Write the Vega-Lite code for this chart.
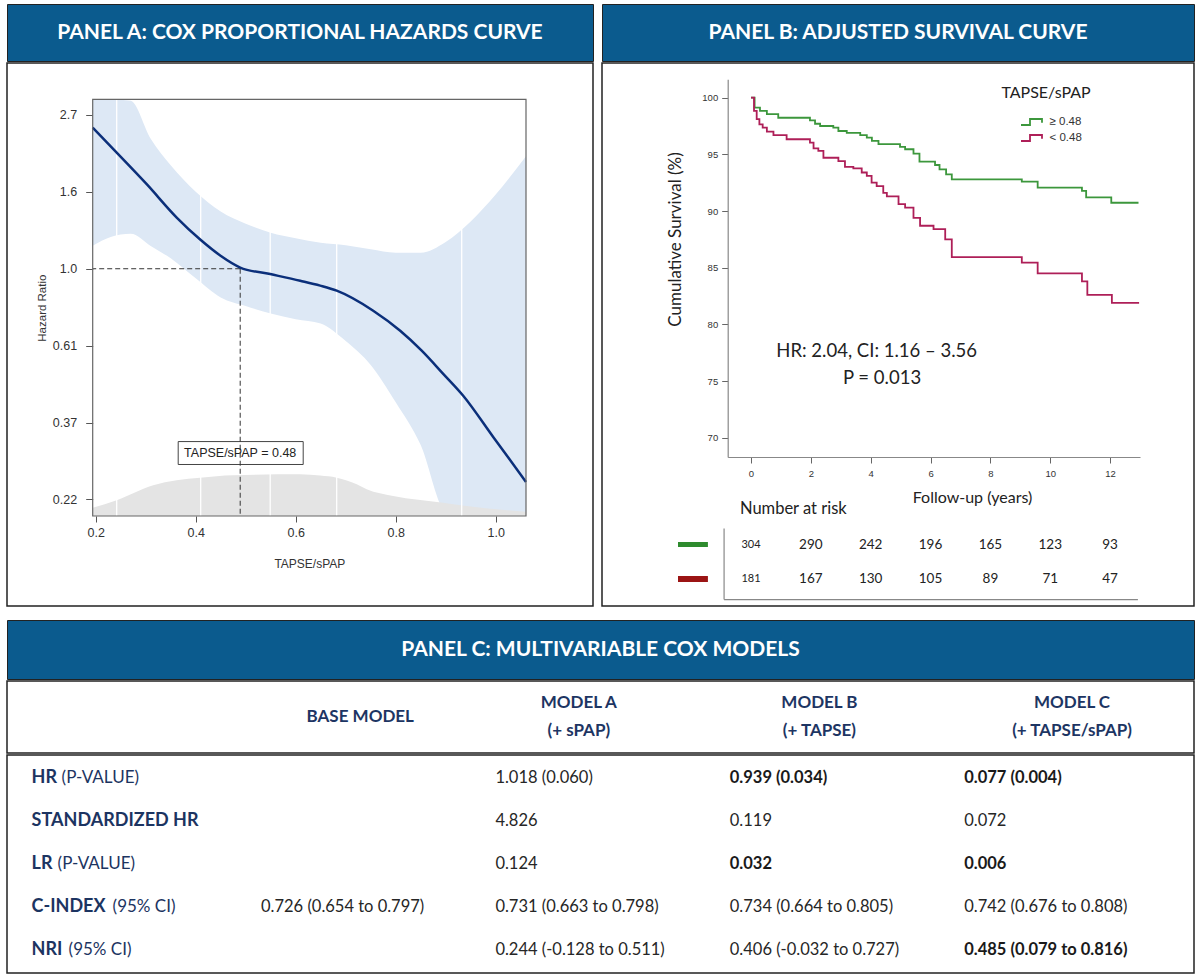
{
  "$schema": "https://vega.github.io/schema/vega-lite/v6.json",
  "background": "white",
  "padding": {"left": 6, "top": 3, "right": 4, "bottom": 2},
  "spacing": 12,
  "config": {
    "view": {"stroke": "#222", "strokeWidth": 1.5},
    "axis": {"grid": false}
  },
  "datasets": {
    "hr_ci": [
      {"tapse_spap": 0.194, "lower": 1.161, "upper": 4.4},
      {"tapse_spap": 0.23, "lower": 1.23, "upper": 3.6},
      {"tapse_spap": 0.27, "lower": 1.255, "upper": 2.98},
      {"tapse_spap": 0.31, "lower": 1.16, "upper": 2.33},
      {"tapse_spap": 0.35, "lower": 1.07, "upper": 1.96},
      {"tapse_spap": 0.4, "lower": 0.94, "upper": 1.65},
      {"tapse_spap": 0.45, "lower": 0.83, "upper": 1.45},
      {"tapse_spap": 0.5, "lower": 0.785, "upper": 1.34},
      {"tapse_spap": 0.55, "lower": 0.747, "upper": 1.264},
      {"tapse_spap": 0.6, "lower": 0.72, "upper": 1.22},
      {"tapse_spap": 0.65, "lower": 0.7, "upper": 1.184},
      {"tapse_spap": 0.7, "lower": 0.625, "upper": 1.165},
      {"tapse_spap": 0.75, "lower": 0.535, "upper": 1.135},
      {"tapse_spap": 0.8, "lower": 0.42, "upper": 1.11},
      {"tapse_spap": 0.85, "lower": 0.318, "upper": 1.11},
      {"tapse_spap": 0.9, "lower": 0.206, "upper": 1.19},
      {"tapse_spap": 0.95, "lower": 0.12, "upper": 1.36},
      {"tapse_spap": 1.0, "lower": 0.08, "upper": 1.62},
      {"tapse_spap": 1.0606, "lower": 0.05, "upper": 2.08}
    ],
    "hr_fit": [
      {"tapse_spap": 0.194, "hr": 2.503},
      {"tapse_spap": 0.242, "hr": 2.128},
      {"tapse_spap": 0.302, "hr": 1.733},
      {"tapse_spap": 0.362, "hr": 1.395},
      {"tapse_spap": 0.409, "hr": 1.209},
      {"tapse_spap": 0.449, "hr": 1.09},
      {"tapse_spap": 0.489, "hr": 1.008},
      {"tapse_spap": 0.549, "hr": 0.966},
      {"tapse_spap": 0.609, "hr": 0.925},
      {"tapse_spap": 0.649, "hr": 0.896},
      {"tapse_spap": 0.682, "hr": 0.867},
      {"tapse_spap": 0.755, "hr": 0.761},
      {"tapse_spap": 0.809, "hr": 0.668},
      {"tapse_spap": 0.852, "hr": 0.587},
      {"tapse_spap": 0.895, "hr": 0.505},
      {"tapse_spap": 0.935, "hr": 0.438},
      {"tapse_spap": 0.995, "hr": 0.335},
      {"tapse_spap": 1.0606, "hr": 0.25}
    ],
    "density": [
      {"tapse_spap": 0.194, "density": 0.2},
      {"tapse_spap": 0.242, "density": 0.38},
      {"tapse_spap": 0.315, "density": 0.74},
      {"tapse_spap": 0.362, "density": 0.86},
      {"tapse_spap": 0.409, "density": 0.92},
      {"tapse_spap": 0.475, "density": 0.98},
      {"tapse_spap": 0.609, "density": 1.0},
      {"tapse_spap": 0.649, "density": 0.97},
      {"tapse_spap": 0.682, "density": 0.92},
      {"tapse_spap": 0.722, "density": 0.76},
      {"tapse_spap": 0.742, "density": 0.64},
      {"tapse_spap": 0.795, "density": 0.48},
      {"tapse_spap": 0.895, "density": 0.32},
      {"tapse_spap": 0.942, "density": 0.24},
      {"tapse_spap": 1.0606, "density": 0.1}
    ],
    "knots": [
      {"knot": 0.242}, {"knot": 0.41}, {"knot": 0.549}, {"knot": 0.682}, {"knot": 0.932}
    ],
    "cutoff": [
      {"tapse_spap": 0.489, "hr": 1.0, "label": "TAPSE/sPAP = 0.48"}
    ],
    "km": [
      {"group": "≥ 0.48", "years": 0, "survival": 100},
      {"group": "≥ 0.48", "years": 0.12, "survival": 99.12},
      {"group": "≥ 0.48", "years": 0.3, "survival": 98.83},
      {"group": "≥ 0.48", "years": 0.53, "survival": 98.54},
      {"group": "≥ 0.48", "years": 0.91, "survival": 98.23},
      {"group": "≥ 0.48", "years": 1.97, "survival": 98.0},
      {"group": "≥ 0.48", "years": 2.14, "survival": 97.7},
      {"group": "≥ 0.48", "years": 2.31, "survival": 97.5},
      {"group": "≥ 0.48", "years": 2.75, "survival": 97.35},
      {"group": "≥ 0.48", "years": 2.92, "survival": 97.06},
      {"group": "≥ 0.48", "years": 3.2, "survival": 96.9},
      {"group": "≥ 0.48", "years": 3.65, "survival": 96.7},
      {"group": "≥ 0.48", "years": 3.87, "survival": 96.47},
      {"group": "≥ 0.48", "years": 4.04, "survival": 96.18},
      {"group": "≥ 0.48", "years": 4.26, "survival": 95.9},
      {"group": "≥ 0.48", "years": 4.98, "survival": 95.65},
      {"group": "≥ 0.48", "years": 5.15, "survival": 95.45},
      {"group": "≥ 0.48", "years": 5.43, "survival": 95.06},
      {"group": "≥ 0.48", "years": 5.63, "survival": 94.35},
      {"group": "≥ 0.48", "years": 6.15, "survival": 94.06},
      {"group": "≥ 0.48", "years": 6.3, "survival": 93.68},
      {"group": "≥ 0.48", "years": 6.52, "survival": 93.24},
      {"group": "≥ 0.48", "years": 6.71, "survival": 92.8},
      {"group": "≥ 0.48", "years": 9.05, "survival": 92.59},
      {"group": "≥ 0.48", "years": 9.58, "survival": 92.06},
      {"group": "≥ 0.48", "years": 11.06, "survival": 91.77},
      {"group": "≥ 0.48", "years": 11.2, "survival": 91.2},
      {"group": "≥ 0.48", "years": 12.04, "survival": 90.73},
      {"group": "≥ 0.48", "years": 12.95, "survival": 90.73},
      {"group": "< 0.48", "years": 0, "survival": 100},
      {"group": "< 0.48", "years": 0.1, "survival": 98.83},
      {"group": "< 0.48", "years": 0.19, "survival": 98.1},
      {"group": "< 0.48", "years": 0.28, "survival": 97.65},
      {"group": "< 0.48", "years": 0.39, "survival": 97.35},
      {"group": "< 0.48", "years": 0.53, "survival": 97.0},
      {"group": "< 0.48", "years": 0.75, "survival": 96.7},
      {"group": "< 0.48", "years": 1.19, "survival": 96.33},
      {"group": "< 0.48", "years": 1.97, "survival": 96.03},
      {"group": "< 0.48", "years": 2.09, "survival": 95.53},
      {"group": "< 0.48", "years": 2.25, "survival": 95.3},
      {"group": "< 0.48", "years": 2.42, "survival": 94.7},
      {"group": "< 0.48", "years": 2.92, "survival": 94.41},
      {"group": "< 0.48", "years": 3.14, "survival": 93.9},
      {"group": "< 0.48", "years": 3.42, "survival": 93.77},
      {"group": "< 0.48", "years": 3.7, "survival": 93.4},
      {"group": "< 0.48", "years": 3.87, "survival": 93.1},
      {"group": "< 0.48", "years": 4.03, "survival": 92.5},
      {"group": "< 0.48", "years": 4.2, "survival": 92.2},
      {"group": "< 0.48", "years": 4.42, "survival": 91.6},
      {"group": "< 0.48", "years": 4.54, "survival": 91.3},
      {"group": "< 0.48", "years": 4.93, "survival": 90.6},
      {"group": "< 0.48", "years": 5.15, "survival": 90.3},
      {"group": "< 0.48", "years": 5.43, "survival": 89.4},
      {"group": "< 0.48", "years": 5.65, "survival": 88.7},
      {"group": "< 0.48", "years": 6.1, "survival": 88.4},
      {"group": "< 0.48", "years": 6.49, "survival": 87.5},
      {"group": "< 0.48", "years": 6.71, "survival": 85.94},
      {"group": "< 0.48", "years": 9.05, "survival": 85.44},
      {"group": "< 0.48", "years": 9.58, "survival": 84.5},
      {"group": "< 0.48", "years": 11.06, "survival": 83.8},
      {"group": "< 0.48", "years": 11.24, "survival": 82.6},
      {"group": "< 0.48", "years": 12.06, "survival": 81.9},
      {"group": "< 0.48", "years": 12.97, "survival": 81.9}
    ],
    "risk": [
      {"group": "≥ 0.48", "years": 0, "n": 304},
      {"group": "≥ 0.48", "years": 2, "n": 290},
      {"group": "≥ 0.48", "years": 4, "n": 242},
      {"group": "≥ 0.48", "years": 6, "n": 196},
      {"group": "≥ 0.48", "years": 8, "n": 165},
      {"group": "≥ 0.48", "years": 10, "n": 123},
      {"group": "≥ 0.48", "years": 12, "n": 93},
      {"group": "< 0.48", "years": 0, "n": 181},
      {"group": "< 0.48", "years": 2, "n": 167},
      {"group": "< 0.48", "years": 4, "n": 130},
      {"group": "< 0.48", "years": 6, "n": 105},
      {"group": "< 0.48", "years": 8, "n": 89},
      {"group": "< 0.48", "years": 10, "n": 71},
      {"group": "< 0.48", "years": 12, "n": 47}
    ],
    "groups": [{"group": "≥ 0.48"}, {"group": "< 0.48"}],
    "notes": [{"hr_text": "HR: 2.04, CI: 1.16 – 3.56", "p_text": "P = 0.013", "risk_title": "Number at risk", "legend_title": "TAPSE/sPAP"}],
    "models": [
      {"model": "Base model", "heading": "BASE MODEL"},
      {"model": "Model A", "heading": "MODEL A\n(+ sPAP)"},
      {"model": "Model B", "heading": "MODEL B\n(+ TAPSE)"},
      {"model": "Model C", "heading": "MODEL C\n(+ TAPSE/sPAP)"}
    ],
    "rowlabels": [
      {"row": "HR", "model": "label", "name": "HR", "detail": "(P-VALUE)"},
      {"row": "Standardized HR", "model": "label", "name": "STANDARDIZED HR", "detail": ""},
      {"row": "LR", "model": "label", "name": "LR", "detail": "(P-VALUE)"},
      {"row": "C-index", "model": "label", "name": "C-INDEX", "detail": "(95% CI)"},
      {"row": "NRI", "model": "label", "name": "NRI", "detail": "(95% CI)"}
    ],
    "cells": [
      {"row": "HR", "model": "Model A", "value": "1.018 (0.060)"},
      {"row": "HR", "model": "Model B", "value": "0.939 (0.034)"},
      {"row": "HR", "model": "Model C", "value": "0.077 (0.004)"},
      {"row": "Standardized HR", "model": "Model A", "value": "4.826"},
      {"row": "Standardized HR", "model": "Model B", "value": "0.119"},
      {"row": "Standardized HR", "model": "Model C", "value": "0.072"},
      {"row": "LR", "model": "Model A", "value": "0.124"},
      {"row": "LR", "model": "Model B", "value": "0.032"},
      {"row": "LR", "model": "Model C", "value": "0.006"},
      {"row": "C-index", "model": "Base model", "value": "0.726 (0.654 to 0.797)"},
      {"row": "C-index", "model": "Model A", "value": "0.731 (0.663 to 0.798)"},
      {"row": "C-index", "model": "Model B", "value": "0.734 (0.664 to 0.805)"},
      {"row": "C-index", "model": "Model C", "value": "0.742 (0.676 to 0.808)"},
      {"row": "NRI", "model": "Model A", "value": "0.244 (-0.128 to 0.511)"},
      {"row": "NRI", "model": "Model B", "value": "0.406 (-0.032 to 0.727)"},
      {"row": "NRI", "model": "Model C", "value": "0.485 (0.079 to 0.816)"}
    ]
  },
  "vconcat": [
    {
      "hconcat": [
        {
          "vconcat": [
            {
              "width": 586, "height": 57,
              "view": {"fill": "#0b5b8e", "stroke": "#222"},
              "data": {"values": [{"title": "PANEL A: COX PROPORTIONAL HAZARDS CURVE"}]},
              "mark": {"type": "text", "color": "white", "font": "Lato", "fontWeight": "bold", "fontSize": 21, "baseline": "middle"},
              "encoding": {"text": {"field": "title", "type": "nominal"}}
            },
            {
              "width": 586, "height": 543,
              "view": {"fill": "white", "stroke": "#222"},
              "resolve": {"scale": {"y": "independent"}},
              "layer": [
                {
                  "data": {"name": "hr_ci"},
                  "mark": {"type": "area", "color": "#dde8f5", "opacity": 1, "interpolate": "monotone"},
                  "encoding": {
                    "x": {"field": "tapse_spap", "type": "quantitative",
                      "scale": {"domain": [0.194, 1.0606], "range": [85.7, 519], "nice": false, "zero": false},
                      "axis": {"orient": "bottom", "offset": -90, "values": [0.2, 0.4, 0.6, 0.8, 1.0], "format": ".1f", "domain": false, "tickSize": 6, "tickColor": "#555", "labelFont": "Liberation Sans", "labelFontSize": 12.5, "labelColor": "#333", "labelPadding": 4, "title": "TAPSE/sPAP", "titleFont": "Liberation Sans", "titleFontSize": 12, "titleFontWeight": "normal", "titleColor": "#333", "titlePadding": 20}},
                    "y": {"field": "upper", "type": "quantitative",
                      "scale": {"type": "log", "domain": [0.2003, 3.01], "range": [453, 36.3], "nice": false, "clamp": true},
                      "axis": {"orient": "left", "offset": -85.7, "values": [0.2231, 0.3679, 0.6065, 1, 1.6487, 2.7183], "format": ".2g", "domain": false, "tickSize": 7, "tickColor": "#555", "labelFont": "Liberation Sans", "labelFontSize": 12.5, "labelColor": "#333", "labelPadding": 9, "title": "Hazard Ratio", "titleFont": "Liberation Sans", "titleFontSize": 11.5, "titleFontWeight": "normal", "titleColor": "#333", "titlePadding": 5}},
                    "y2": {"field": "lower"}
                  }
                },
                {
                  "data": {"name": "density"},
                  "mark": {"type": "area", "color": "#e4e4e4", "opacity": 1, "interpolate": "monotone"},
                  "encoding": {
                    "x": {"field": "tapse_spap", "type": "quantitative"},
                    "y": {"field": "density", "type": "quantitative", "scale": {"domain": [0, 10], "range": [453, 36.3], "nice": false}, "axis": null}
                  }
                },
                {
                  "layer": [
                    {
                      "data": {"name": "knots"},
                      "mark": {"type": "rule", "color": "white", "strokeWidth": 1.3},
                      "encoding": {
                        "x": {"field": "knot", "type": "quantitative"},
                        "y": {"datum": 0.2003, "type": "quantitative", "scale": {"type": "log", "domain": [0.2003, 3.01], "range": [453, 36.3], "nice": false, "clamp": true}, "axis": null},
                        "y2": {"datum": 3.01}
                      }
                    },
                    {
                      "data": {"name": "cutoff"},
                      "mark": {"type": "rect", "fill": "white", "stroke": "#444", "strokeWidth": 1},
                      "encoding": {
                        "x": {"datum": 0.365, "type": "quantitative"}, "x2": {"datum": 0.615},
                        "y": {"datum": 0.325, "type": "quantitative", "axis": null}, "y2": {"datum": 0.28}
                      }
                    },
                    {
                      "data": {"name": "cutoff"},
                      "mark": {"type": "rule", "strokeDash": [5, 3], "color": "#333", "strokeWidth": 1},
                      "encoding": {
                        "x": {"field": "tapse_spap", "type": "quantitative"}, "x2": {"datum": 0.194},
                        "y": {"field": "hr", "type": "quantitative", "axis": null}
                      }
                    },
                    {
                      "data": {"name": "cutoff"},
                      "mark": {"type": "rule", "strokeDash": [5, 3], "color": "#333", "strokeWidth": 1},
                      "encoding": {
                        "x": {"field": "tapse_spap", "type": "quantitative"},
                        "y": {"field": "hr", "type": "quantitative", "axis": null}, "y2": {"datum": 0.2003}
                      }
                    },
                    {
                      "data": {"name": "hr_fit"},
                      "mark": {"type": "line", "color": "#0b2f7a", "strokeWidth": 2.5, "interpolate": "monotone"},
                      "encoding": {
                        "x": {"field": "tapse_spap", "type": "quantitative"},
                        "y": {"field": "hr", "type": "quantitative", "axis": null}
                      }
                    },
                    {
                      "data": {"name": "cutoff"},
                      "mark": {"type": "text", "font": "Liberation Sans", "fontSize": 12.5, "color": "#222", "baseline": "middle"},
                      "encoding": {
                        "x": {"field": "tapse_spap", "type": "quantitative"},
                        "y": {"datum": 0.302, "type": "quantitative", "axis": null},
                        "text": {"field": "label", "type": "nominal"}
                      }
                    },
                    {
                      "data": {"name": "cutoff"},
                      "mark": {"type": "rect", "fill": "transparent", "stroke": "#666", "strokeWidth": 1.2},
                      "encoding": {
                        "x": {"datum": 0.194, "type": "quantitative"}, "x2": {"datum": 1.0606},
                        "y": {"datum": 0.2003, "type": "quantitative", "axis": null}, "y2": {"datum": 3.01}
                      }
                    }
                  ]
                }
              ]
            }
          ],
          "spacing": 0
        },
        {
          "vconcat": [
            {
              "width": 592, "height": 57,
              "view": {"fill": "#0b5b8e", "stroke": "#222"},
              "data": {"values": [{"title": "PANEL B: ADJUSTED SURVIVAL CURVE"}]},
              "mark": {"type": "text", "color": "white", "font": "Lato", "fontWeight": "bold", "fontSize": 21, "baseline": "middle"},
              "encoding": {"text": {"field": "title", "type": "nominal"}}
            },
            {
              "width": 592, "height": 543,
              "view": {"fill": "white", "stroke": "#222"},
              "layer": [
                {
                  "data": {"name": "km"},
                  "mark": {"type": "line", "interpolate": "step-after", "strokeWidth": 1.8},
                  "encoding": {
                    "x": {"field": "years", "type": "quantitative",
                      "scale": {"domain": [-0.779, 13.0], "range": [125.7, 538], "nice": false, "zero": false},
                      "axis": {"orient": "bottom", "offset": -149, "values": [0, 2, 4, 6, 8, 10, 12], "domainColor": "#888", "domainWidth": 1.2, "tickColor": "#666", "tickSize": 6, "labelFont": "Liberation Sans", "labelFontSize": 9.5, "labelColor": "#333", "labelPadding": 5, "title": "Follow-up (years)", "titleFont": "Lato", "titleFontSize": 16, "titleFontWeight": "normal", "titleColor": "#222", "titleX": 370, "titleY": 40, "titleBaseline": "middle", "titleAlign": "center"}},
                    "y": {"field": "survival", "type": "quantitative",
                      "scale": {"domain": [68.3, 101.62], "range": [394, 16.3], "nice": false, "zero": false},
                      "axis": {"orient": "left", "offset": -125.7, "values": [70, 75, 80, 85, 90, 95, 100], "domainColor": "#888", "domainWidth": 1.2, "tickColor": "#666", "tickSize": 6, "labelFont": "Liberation Sans", "labelFontSize": 9.5, "labelColor": "#333", "labelPadding": 4, "title": "Cumulative Survival (%)", "titleFont": "Lato", "titleFontSize": 17, "titleFontWeight": "normal", "titleColor": "#222", "titleX": -52, "titleY": 176, "titleAngle": -90, "titleBaseline": "middle", "titleAlign": "center"}},
                    "color": {"field": "group", "type": "nominal",
                      "scale": {"domain": ["≥ 0.48", "< 0.48"], "range": ["#3c973c", "#ae1f58"]},
                      "legend": {"orient": "none", "legendX": 1016, "legendY": 109.5, "title": null, "symbolType": "M-1.4,0.4H-0.2V-0.4H1.4V0.1", "symbolSize": 225, "symbolStrokeWidth": 1.8, "symbolFillColor": "transparent", "labelFont": "Liberation Sans", "labelFontSize": 11.5, "labelColor": "#333", "labelOffset": 9.5, "rowPadding": -1, "padding": 0}}
                  }
                },
                {
                  "data": {"name": "notes"},
                  "mark": {"type": "text", "font": "Lato", "fontSize": 16, "color": "#222", "baseline": "middle"},
                  "encoding": {"x": {"datum": 9.86, "type": "quantitative"}, "y": {"datum": 100.41, "type": "quantitative"}, "text": {"field": "legend_title", "type": "nominal"}}
                },
                {
                  "data": {"name": "notes"},
                  "mark": {"type": "text", "font": "Lato", "fontSize": 18.5, "color": "#222", "baseline": "middle"},
                  "encoding": {"x": {"datum": 4.2, "type": "quantitative"}, "y": {"datum": 77.65, "type": "quantitative"}, "text": {"field": "hr_text", "type": "nominal"}}
                },
                {
                  "data": {"name": "notes"},
                  "mark": {"type": "text", "font": "Lato", "fontSize": 18.5, "color": "#222", "baseline": "middle"},
                  "encoding": {"x": {"datum": 4.38, "type": "quantitative"}, "y": {"datum": 75.27, "type": "quantitative"}, "text": {"field": "p_text", "type": "nominal"}}
                },
                {
                  "data": {"name": "notes"},
                  "mark": {"type": "text", "font": "Lato", "fontSize": 16.5, "color": "#222", "baseline": "middle", "align": "left"},
                  "encoding": {"x": {"datum": -0.37, "type": "quantitative"}, "y": {"datum": 63.71, "type": "quantitative"}, "text": {"field": "risk_title", "type": "nominal"}}
                },
                {
                  "data": {"name": "risk"},
                  "transform": [{"filter": "datum.group === '≥ 0.48'"}],
                  "mark": {"type": "text", "font": "Lato", "color": "#222", "baseline": "middle"},
                  "encoding": {"x": {"field": "years", "type": "quantitative"}, "y": {"datum": 60.53, "type": "quantitative"}, "text": {"field": "n", "type": "quantitative"},
                    "size": {"condition": {"test": "datum.years === 0", "value": 11}, "value": 13.5}}
                },
                {
                  "data": {"name": "risk"},
                  "transform": [{"filter": "datum.group === '< 0.48'"}],
                  "mark": {"type": "text", "font": "Lato", "color": "#222", "baseline": "middle"},
                  "encoding": {"x": {"field": "years", "type": "quantitative"}, "y": {"datum": 57.53, "type": "quantitative"}, "text": {"field": "n", "type": "quantitative"},
                    "size": {"condition": {"test": "datum.years === 0", "value": 11}, "value": 13.5}}
                },
                {
                  "data": {"name": "groups"},
                  "transform": [{"filter": "datum.group === '≥ 0.48'"}],
                  "mark": {"type": "rect", "color": "#2e8b2e"},
                  "encoding": {"x": {"datum": -2.44, "type": "quantitative"}, "x2": {"datum": -1.44}, "y": {"datum": 60.8, "type": "quantitative"}, "y2": {"datum": 60.36}}
                },
                {
                  "data": {"name": "groups"},
                  "transform": [{"filter": "datum.group === '< 0.48'"}],
                  "mark": {"type": "rect", "color": "#9b1414"},
                  "encoding": {"x": {"datum": -2.44, "type": "quantitative"}, "x2": {"datum": -1.44}, "y": {"datum": 57.8, "type": "quantitative"}, "y2": {"datum": 57.27}}
                },
                {
                  "data": {"name": "notes"},
                  "mark": {"type": "rule", "color": "#888", "strokeWidth": 1.2},
                  "encoding": {"x": {"datum": -0.9, "type": "quantitative"}, "y": {"datum": 61.99, "type": "quantitative"}, "y2": {"datum": 55.72}}
                },
                {
                  "data": {"name": "notes"},
                  "mark": {"type": "rule", "color": "#888", "strokeWidth": 1.2},
                  "encoding": {"x": {"datum": -0.9, "type": "quantitative"}, "x2": {"datum": 12.93}, "y": {"datum": 55.72, "type": "quantitative"}}
                }
              ]
            }
          ],
          "spacing": 0
        }
      ],
      "spacing": 7
    },
    {
      "vconcat": [
        {
          "width": 1187, "height": 59,
          "view": {"fill": "#0b5b8e", "stroke": "#222"},
          "data": {"values": [{"title": "PANEL C: MULTIVARIABLE COX MODELS"}]},
          "mark": {"type": "text", "color": "white", "font": "Lato", "fontWeight": "bold", "fontSize": 21, "baseline": "middle"},
          "encoding": {"text": {"field": "title", "type": "nominal"}}
        },
        {
          "width": 1187, "height": 72,
          "view": {"fill": "white", "stroke": "#222"},
          "data": {"name": "models"},
          "layer": [
            {
              "transform": [{"filter": "datum.model === 'Base model'"}],
              "mark": {"type": "text", "font": "Lato", "fontWeight": "bold", "fontSize": 17, "color": "#1d3563", "baseline": "middle", "dx": 8},
              "encoding": {
                "x": {"field": "model", "type": "nominal", "scale": {"type": "point", "domain": ["Base model", "Model A", "Model B", "Model C"], "padding": 0.998, "align": 0.728}, "axis": null},
                "text": {"field": "heading", "type": "nominal"}
              }
            },
            {
              "transform": [{"filter": "datum.model === 'Model A'"}],
              "mark": {"type": "text", "font": "Lato", "fontWeight": "bold", "fontSize": 17, "color": "#1d3563", "lineBreak": "\n", "lineHeight": 28, "baseline": "middle", "dy": -14, "dx": -11},
              "encoding": {"x": {"field": "model", "type": "nominal"}, "text": {"field": "heading", "type": "nominal"}}
            },
            {
              "transform": [{"filter": "datum.model === 'Model B'"}],
              "mark": {"type": "text", "font": "Lato", "fontWeight": "bold", "fontSize": 17, "color": "#1d3563", "lineBreak": "\n", "lineHeight": 28, "baseline": "middle", "dy": -14, "dx": -8},
              "encoding": {"x": {"field": "model", "type": "nominal"}, "text": {"field": "heading", "type": "nominal"}}
            },
            {
              "transform": [{"filter": "datum.model === 'Model C'"}],
              "mark": {"type": "text", "font": "Lato", "fontWeight": "bold", "fontSize": 17, "color": "#1d3563", "lineBreak": "\n", "lineHeight": 28, "baseline": "middle", "dy": -14, "dx": 7},
              "encoding": {"x": {"field": "model", "type": "nominal"}, "text": {"field": "heading", "type": "nominal"}}
            }
          ]
        },
        {
          "width": 1187, "height": 218,
          "view": {"fill": "white", "stroke": "#222"},
          "layer": [
            {
              "data": {"name": "rowlabels"},
              "mark": {"type": "text", "font": "Lato", "fontWeight": "bold", "fontSize": 18, "color": "#1c3461", "align": "left", "baseline": "middle", "dx": 5},
              "encoding": {
                "x": {"field": "model", "type": "nominal", "scale": {"type": "point", "domain": ["label", "Base model", "Model A", "Model B", "Model C"], "padding": 0.532, "align": 0.0786}, "axis": null},
                "y": {"field": "row", "type": "nominal", "scale": {"type": "point", "domain": ["HR", "Standardized HR", "LR", "C-index", "NRI"], "padding": 0.535}, "axis": null},
                "text": {"field": "name", "type": "nominal"}
              }
            },
            {
              "data": {"name": "rowlabels"},
              "transform": [{"filter": "datum.row === 'HR'"}],
              "mark": {"type": "text", "font": "Lato", "fontSize": 17, "color": "#1c3461", "align": "left", "baseline": "middle", "dx": 35},
              "encoding": {"x": {"field": "model", "type": "nominal"}, "y": {"field": "row", "type": "nominal"}, "text": {"field": "detail", "type": "nominal"}}
            },
            {
              "data": {"name": "rowlabels"},
              "transform": [{"filter": "datum.row === 'LR'"}],
              "mark": {"type": "text", "font": "Lato", "fontSize": 17, "color": "#1c3461", "align": "left", "baseline": "middle", "dx": 31},
              "encoding": {"x": {"field": "model", "type": "nominal"}, "y": {"field": "row", "type": "nominal"}, "text": {"field": "detail", "type": "nominal"}}
            },
            {
              "data": {"name": "rowlabels"},
              "transform": [{"filter": "datum.row === 'C-index'"}],
              "mark": {"type": "text", "font": "Lato", "fontSize": 17, "color": "#1c3461", "align": "left", "baseline": "middle", "dx": 86},
              "encoding": {"x": {"field": "model", "type": "nominal"}, "y": {"field": "row", "type": "nominal"}, "text": {"field": "detail", "type": "nominal"}}
            },
            {
              "data": {"name": "rowlabels"},
              "transform": [{"filter": "datum.row === 'NRI'"}],
              "mark": {"type": "text", "font": "Lato", "fontSize": 17, "color": "#1c3461", "align": "left", "baseline": "middle", "dx": 42},
              "encoding": {"x": {"field": "model", "type": "nominal"}, "y": {"field": "row", "type": "nominal"}, "text": {"field": "detail", "type": "nominal"}}
            },
            {
              "data": {"name": "cells"},
              "transform": [{"filter": "!(((datum.row === 'HR' || datum.row === 'LR') && (datum.model === 'Model B' || datum.model === 'Model C')) || (datum.row === 'NRI' && datum.model === 'Model C'))"}],
              "mark": {"type": "text", "font": "Lato", "fontSize": 16.5, "color": "#262626", "align": "left", "baseline": "middle"},
              "encoding": {"x": {"field": "model", "type": "nominal"}, "y": {"field": "row", "type": "nominal"}, "text": {"field": "value", "type": "nominal"}}
            },
            {
              "data": {"name": "cells"},
              "transform": [{"filter": "((datum.row === 'HR' || datum.row === 'LR') && (datum.model === 'Model B' || datum.model === 'Model C')) || (datum.row === 'NRI' && datum.model === 'Model C')"}],
              "mark": {"type": "text", "font": "Lato", "fontWeight": "bold", "fontSize": 16.5, "color": "#1a1a1a", "align": "left", "baseline": "middle"},
              "encoding": {"x": {"field": "model", "type": "nominal"}, "y": {"field": "row", "type": "nominal"}, "text": {"field": "value", "type": "nominal"}}
            }
          ]
        }
      ],
      "spacing": 0
    }
  ]
}
